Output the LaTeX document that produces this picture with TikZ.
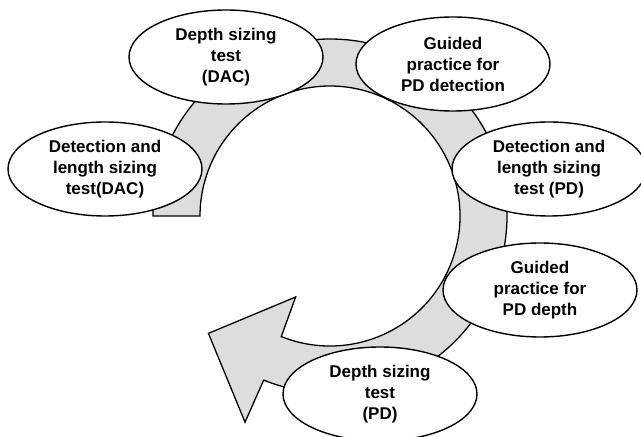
\documentclass[tikz,border=0pt]{standalone}
\usepackage{fontspec}
\setmainfont{Liberation Sans}
\usetikzlibrary{shapes.geometric,calc}
\definecolor{ringgray}{RGB}{221,221,221}
\begin{document}
\begin{tikzpicture}[x=1pt,y=1pt,
  stage/.style={ellipse, draw=black, line width=1.4pt, fill=white,
    minimum width=194pt, minimum height=94pt, inner sep=0pt, align=center,
    font=\fontsize{17}{21}\selectfont\bfseries},
  ring/.style={draw=black, line width=1.3pt, fill=ringgray, line join=miter}]
\useasboundingbox (0,0) rectangle (641,437);
\coordinate (c) at (330,221);
% circular block arrow
\draw[ring] ($(c)+(180:177)$) arc[start angle=180, end angle=-112, radius=177]
  -- ($(c)+(-112.4:223)$) -- ($(c)+(-136:169)$) -- ($(c)+(-113:88)$)
  -- ($(c)+(-112:130)$) arc[start angle=-112, end angle=180, radius=130] -- cycle;
% stages
\node[stage] (dacdepth) at (226,380) {Depth sizing\\test\\(DAC)};
\node[stage] (pddetect) at (453,373) {Guided\\practice for\\PD detection};
\node[stage] (daclength) at (105,268) {Detection and\\length sizing\\test(DAC)};
\node[stage] (pdlength) at (549,268) {Detection and\\length sizing\\test (PD)};
\node[stage] (pddepthprac) at (540,147) {Guided\\practice for\\PD depth};
\node[stage] (pddepth) at (380,43) {Depth sizing\\test\\(PD)};
\end{tikzpicture}
\end{document}
